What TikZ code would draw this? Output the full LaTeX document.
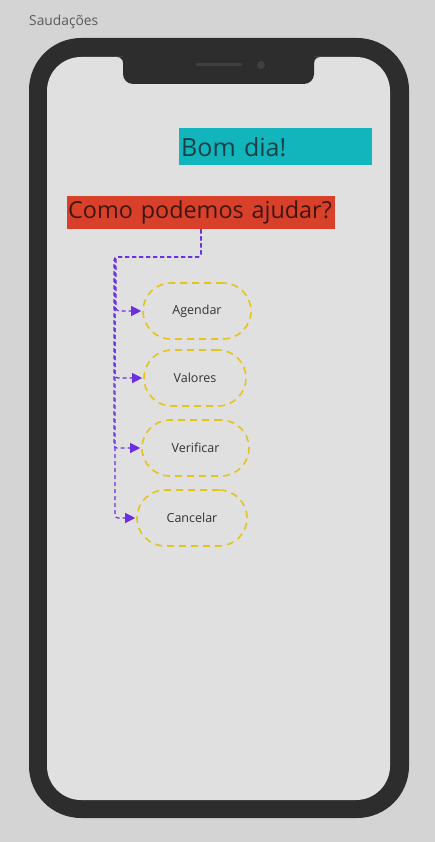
\documentclass[tikz,border=0pt]{standalone}
\usepackage{fontspec}
\setmainfont{Open Sans}
\usetikzlibrary{arrows.meta}
\definecolor{bg}{HTML}{D4D4D4}
\definecolor{bezel}{HTML}{2D2D2D}
\definecolor{screen}{HTML}{E0E0E0}
\definecolor{speaker}{HTML}{404040}
\definecolor{teal}{HTML}{13B5BD}
\definecolor{tealtext}{HTML}{1A3F44}
\definecolor{redbox}{HTML}{D8402A}
\definecolor{redtext}{HTML}{3E1610}
\definecolor{btnline}{HTML}{E3C41C}
\definecolor{btntext}{HTML}{333333}
\definecolor{conncol}{HTML}{6B2FE0}
\definecolor{titlecol}{HTML}{5A5A5A}
\tikzset{
  x=1pt, y=-1pt,
  btn/.style={draw=btnline, line width=1.6pt, dash pattern=on 7pt off 5pt,
    rounded corners=28pt, minimum height=56pt, inner sep=0pt,
    font=\fontsize{12.5}{14}\selectfont, text=btntext},
  conn/.style={draw=conncol, line width=1.2pt, dash pattern=on 4pt off 3pt,
    rounded corners=3pt, -{Triangle[length=10pt,width=10pt]}},
}
\begin{document}
\begin{tikzpicture}
\useasboundingbox (0,0) rectangle (435,842);
\fill[bg] (0,0) rectangle (435,842);
% title
\node[anchor=west, inner sep=0pt, text=titlecol, font=\fontsize{13.8}{16}\selectfont] (title) at (29,22) {Saudações};
% phone
\fill[bezel, rounded corners=52pt] (29,38) rectangle (409,818);
\fill[screen, rounded corners=34pt] (47,57) rectangle (390,800);
\fill[bezel, rounded corners=10pt] (123,40) rectangle (314,84);
\fill[bezel] (117,57) -- (123,57) -- (123,63) arc[start angle=0, end angle=90, radius=6pt] -- cycle;
\fill[bezel] (320,57) -- (314,57) -- (314,63) arc[start angle=180, end angle=90, radius=6pt] -- cycle;
\draw[speaker, line width=3pt, line cap=round] (197,65) -- (241,65);
\fill[speaker] (261,65) circle[radius=4pt];
% headings
\node[anchor=north west, fill=teal, minimum width=193pt, minimum height=37pt,
  text width=189pt, align=left, inner xsep=2pt, inner ysep=0pt, text=tealtext,
  font=\fontsize{25}{28}\selectfont] (bom) at (179,128) {Bom dia!};
\node[anchor=north west, fill=redbox, minimum width=268pt, minimum height=33pt,
  text width=266pt, align=left, inner xsep=1pt, inner ysep=0pt, text=redtext,
  font=\fontsize{23.4}{26}\selectfont] (como) at (67,196) {Como podemos ajudar?};
% buttons
\node[btn, minimum width=108pt] (agendar) at (197,311) {Agendar};
\node[btn, minimum width=102pt] (valores) at (195,378) {Valores};
\node[btn, minimum width=107pt] (verificar) at (195.5,448) {Verificar};
\node[btn, minimum width=110pt] (cancelar) at (192,518) {Cancelar};
% connectors
\coordinate (b1) at (201,257);
\coordinate (b2) at (116,257);
\draw[conn] (como.south -| b1) -- (b1) -- (b2) |- ([xshift=-1pt]agendar.west);
\draw[conn] (como.south -| b1) -- (b1) -- ([xshift=-1pt]b2) |- ([xshift=-1pt]valores.west);
\draw[conn] (como.south -| b1) -- (b1) -- ([xshift=-2pt]b2) |- ([xshift=-1pt]verificar.west);
\draw[conn] (como.south -| b1) -- (b1) -- ([xshift=-1pt]b2) |- ([xshift=-1pt]cancelar.west);
\end{tikzpicture}
\end{document}
